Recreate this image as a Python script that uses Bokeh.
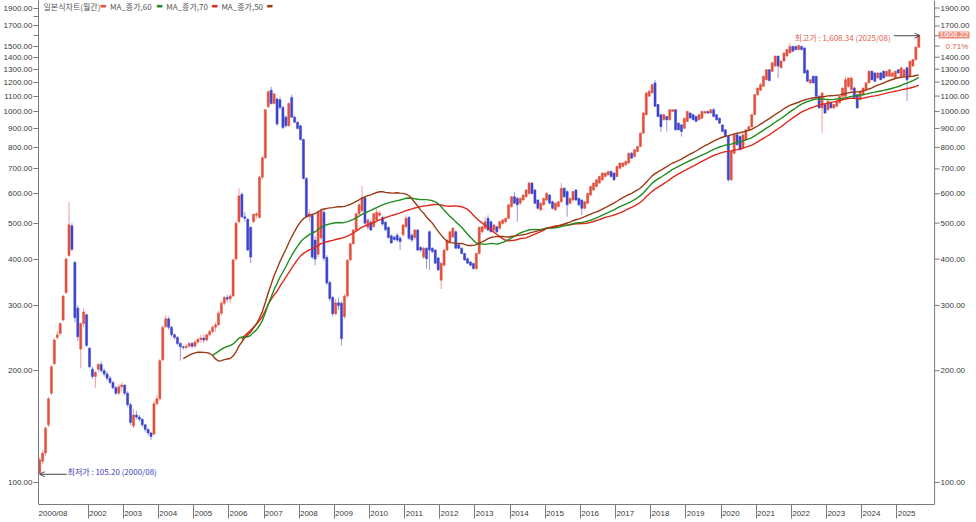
import pandas as pd
from bokeh.plotting import figure
from bokeh.models import (ColumnDataSource, Range1d, FixedTicker, LogAxis, LinearAxis,
                          Label, Arrow, OpenHead, CustomJSTickFormatter, Span)
from bokeh.embed import file_html
from bokeh.resources import INLINE
from bokeh.core.properties import value

# ---------------- data (monthly candles 2000/08 .. 2025/08) ----------------
first_month = "2000-08"

opens = [
    106, 114, 120, 143, 174,
    209, 246, 252, 274, 325, 409, 492, 392, 295, 229, 268, 283,
    230, 202, 193, 202, 208, 200, 196, 191, 186, 180, 174, 181,
    183, 174, 162, 142, 152, 150, 148, 143, 139, 136, 135, 163,
    168, 214, 263, 276, 262, 250, 246, 237, 232, 231, 233, 237,
    233, 239, 243, 245, 242, 250, 255, 262, 266, 286, 304, 315,
    312, 318, 400, 504, 598, 520, 512, 487, 505, 525, 518, 665,
    750, 1030, 1140, 1050, 1080, 1075, 1025, 965, 915, 1090, 965, 935,
    915, 840, 660, 520, 525, 450, 412, 456, 535, 404, 346, 315,
    285, 305, 304, 280, 318, 398, 440, 479, 530, 540, 585, 487,
    503, 490, 510, 525, 518, 503, 487, 462, 458, 464, 455, 465,
    489, 518, 464, 457, 479, 430, 405, 428, 474, 428, 423, 403,
    351, 385, 423, 445, 459, 474, 437, 428, 414, 401, 393, 389,
    377, 414, 474, 484, 515, 504, 479, 489, 484, 499, 504, 515,
    554, 589, 583, 566, 577, 589, 601, 641, 614, 577, 543, 560,
    577, 595, 571, 543, 554, 571, 621, 608, 566, 577, 614, 583,
    577, 548, 566, 595, 614, 628, 641, 654, 668, 675, 689, 682,
    668, 703, 711, 718, 726, 772, 756, 780, 805, 874, 980, 1099,
    1122, 1194, 1044, 980, 950, 969, 950, 1000, 1011, 930, 920, 901,
    940, 990, 980, 969, 950, 959, 990, 1000, 990, 1011, 980, 959,
    920, 892, 856, 654, 772, 865, 856, 797, 839, 892, 910, 980,
    1110, 1140, 1169, 1218, 1296, 1283, 1325, 1410, 1312, 1367, 1410, 1438,
    1497, 1497, 1468, 1497, 1482, 1290, 1194, 1244, 1244, 1099, 1022, 1044,
    1011, 1055, 1022, 1033, 1055, 1099, 1099, 1169, 1145, 1157, 1110, 1077,
    1110, 1145, 1194, 1283, 1270, 1231, 1270, 1283, 1244, 1244, 1244, 1231,
    1296, 1244, 1244, 1312, 1244, 1325, 1380, 1490,
]

highs = [
    117, 122, 142, 170, 208,
    245, 256, 270, 320, 405, 570, 500, 395, 300, 270, 295, 285,
    232, 205, 200, 210, 212, 203, 199, 194, 188, 182, 184, 186,
    184, 176, 164, 158, 156, 152, 149, 144, 140, 137, 166, 172,
    215, 265, 282, 280, 264, 252, 248, 239, 234, 236, 240, 239,
    242, 246, 250, 250, 252, 258, 265, 270, 290, 308, 318, 320,
    322, 402, 505, 620, 605, 535, 515, 490, 530, 535, 670, 760,
    1015, 1140, 1165, 1125, 1090, 1095, 1035, 975, 1060, 1110, 975, 940,
    920, 845, 665, 545, 530, 460, 540, 548, 545, 410, 350, 318,
    312, 315, 308, 322, 400, 442, 482, 532, 565, 630, 590, 515,
    510, 535, 547, 540, 522, 506, 490, 466, 462, 470, 462, 497,
    525, 522, 470, 482, 482, 433, 432, 430, 478, 430, 425, 405,
    392, 425, 452, 476, 489, 478, 440, 430, 416, 404, 395, 391,
    416, 490, 492, 520, 525, 508, 497, 492, 508, 512, 518, 562,
    592, 608, 588, 586, 598, 618, 647, 645, 618, 580, 569, 586,
    608, 599, 575, 569, 574, 641, 625, 612, 586, 611, 618, 586,
    580, 574, 604, 631, 644, 657, 671, 685, 685, 692, 693, 686,
    714, 730, 730, 738, 775, 778, 792, 808, 878, 995, 1125, 1145,
    1185, 1215, 1048, 985, 985, 972, 1015, 1015, 1015, 935, 925, 962,
    1005, 995, 985, 975, 985, 1005, 1005, 1005, 1015, 1022, 985, 962,
    925, 895, 860, 785, 868, 870, 862, 870, 895, 915, 985, 1115,
    1160, 1195, 1250, 1300, 1300, 1358, 1415, 1415, 1372, 1442, 1472, 1530,
    1505, 1502, 1512, 1505, 1490, 1300, 1222, 1250, 1248, 1105, 1125, 1050,
    1070, 1060, 1048, 1070, 1102, 1160, 1244, 1235, 1244, 1165, 1115, 1138,
    1160, 1198, 1290, 1290, 1275, 1275, 1276, 1290, 1288, 1300, 1275, 1290,
    1300, 1315, 1300, 1318, 1370, 1385, 1500, 1608.34,
]

lows = [
    105.2, 112, 118, 141, 172,
    207, 243, 249, 272, 322, 405, 420, 270, 240, 203, 262, 232,
    203, 190, 180, 198, 198, 193, 188, 184, 178, 172, 172, 176,
    172, 160, 143, 140, 148, 146, 141, 137, 134, 130, 134, 161,
    166, 212, 260, 258, 247, 243, 234, 213, 228, 228, 231, 230,
    231, 236, 238, 238, 240, 247, 252, 255, 264, 282, 300, 306,
    305, 316, 396, 500, 515, 505, 420, 390, 500, 515, 515, 655,
    745, 1020, 1045, 1045, 915, 1010, 895, 905, 910, 960, 930, 895,
    835, 655, 515, 505, 400, 385, 405, 450, 395, 340, 308, 280,
    282, 292, 234, 276, 315, 394, 436, 475, 525, 535, 495, 480,
    476, 485, 505, 520, 492, 476, 455, 440, 448, 445, 423, 460,
    485, 450, 445, 452, 420, 418, 400, 377, 374, 415, 388, 372,
    332, 382, 420, 442, 455, 426, 426, 412, 396, 388, 383, 375,
    374, 412, 470, 480, 476, 472, 476, 470, 480, 495, 500, 512,
    550, 562, 504, 560, 572, 585, 596, 598, 562, 544, 539, 556,
    573, 562, 544, 539, 550, 567, 585, 520, 562, 573, 573, 556,
    525, 544, 562, 591, 610, 624, 637, 650, 664, 671, 664, 650,
    664, 698, 706, 712, 722, 745, 750, 776, 800, 870, 975, 1095,
    1118, 1030, 965, 880, 945, 883, 945, 996, 888, 890, 856, 895,
    935, 955, 945, 935, 945, 955, 985, 985, 985, 965, 945, 925,
    880, 850, 647, 650, 765, 810, 785, 790, 835, 888, 905, 975,
    1100, 1135, 1165, 1212, 1205, 1278, 1320, 1231, 1305, 1360, 1405, 1432,
    1450, 1462, 1460, 1462, 1265, 1200, 1180, 1190, 1095, 1018, 874, 985,
    1005, 1018, 1015, 1028, 1050, 1095, 1095, 1160, 1140, 1085, 1018, 1070,
    1105, 1140, 1190, 1214, 1200, 1225, 1214, 1225, 1240, 1238, 1240, 1225,
    1265, 1240, 1240, 1068, 1240, 1320, 1370, 1480,
]

closes = [
    115, 120, 140, 168, 205,
    242, 250, 268, 318, 400, 495, 425, 278, 247, 268, 288, 234,
    205, 193, 198, 208, 200, 196, 191, 186, 180, 174, 181, 183,
    174, 162, 145, 152, 150, 148, 143, 139, 136, 133, 163, 168,
    213, 262, 276, 262, 250, 246, 237, 232, 231, 233, 237, 233,
    239, 243, 245, 242, 250, 255, 262, 266, 286, 304, 315, 312,
    318, 398, 500, 592, 520, 515, 423, 405, 528, 530, 665, 750,
    1010, 1130, 1050, 1115, 925, 1025, 905, 915, 1050, 965, 935, 900,
    840, 660, 520, 530, 405, 400, 535, 540, 402, 345, 313, 285,
    305, 300, 244, 318, 397, 440, 479, 530, 560, 585, 500, 510,
    479, 530, 535, 532, 497, 480, 457, 442, 452, 450, 446, 494,
    515, 455, 450, 479, 423, 423, 428, 401, 423, 419, 390, 374,
    390, 423, 450, 474, 484, 428, 428, 414, 398, 390, 385, 377,
    414, 487, 489, 504, 479, 474, 494, 474, 504, 510, 515, 560,
    589, 566, 560, 583, 595, 614, 641, 601, 566, 548, 566, 583,
    601, 566, 548, 566, 571, 621, 589, 560, 583, 608, 577, 560,
    548, 571, 601, 628, 641, 654, 668, 682, 682, 689, 668, 654,
    711, 726, 726, 733, 772, 748, 788, 805, 874, 990, 1122, 1133,
    1181, 1033, 969, 910, 980, 950, 1011, 1011, 892, 892, 883, 959,
    1000, 960, 950, 940, 980, 1000, 1000, 990, 1011, 969, 950, 930,
    883, 856, 654, 780, 865, 813, 788, 865, 892, 910, 980, 1110,
    1157, 1181, 1244, 1296, 1212, 1353, 1410, 1325, 1367, 1438, 1468, 1497,
    1453, 1468, 1505, 1468, 1270, 1206, 1218, 1194, 1099, 1022, 1122, 990,
    1066, 1022, 1044, 1066, 1099, 1157, 1218, 1231, 1231, 1088, 1022, 1133,
    1157, 1194, 1283, 1218, 1206, 1270, 1218, 1231, 1283, 1296, 1270, 1283,
    1270, 1312, 1296, 1218, 1367, 1380, 1490, 1608.22,
]

ma_periods = [60, 70, 50]
ma_names = ["MA_종가,60", "MA_종가,70", "MA_종가,50"]
y_ticks = [100, 200, 300, 400, 500, 600, 700, 800, 900, 1000,
           1100, 1200, 1300, 1400, 1500, 1600, 1700, 1800, 1900]
left_hidden = [1600, 1800]
right_hidden = [1500, 1600, 1800]
x_labels = ["2000/08"] + [str(y) for y in range(2002, 2026)]

chart_title = "일본식차트(월간)"
high_text = "최고가 : 1,608.34 (2025/08)"
low_text = "최저가 : 105.20 (2000/08)"
last_text = "1608.22"
change_text = "0.71%"

# ---------------- derived ----------------
n = len(closes)
months = pd.period_range(first_month, periods=n, freq="M")
idx = list(range(n))
up_c, dn_c = "#E2503E", "#3C44CC"
colors = [up_c if c >= o else dn_c for o, c in zip(opens, closes)]
src = ColumnDataSource(dict(
    x=idx, o=opens, h=highs, l=lows, c=closes,
    top=[max(o, c) for o, c in zip(opens, closes)],
    bot=[min(o, c) for o, c in zip(opens, closes)],
    col=colors,
    m=[str(mm) for mm in months],
))

cs = pd.Series(closes, dtype=float)
ma = {p_: cs.rolling(p_).mean().tolist() for p_ in ma_periods}

label_idx = [0] + [i for i, mm in enumerate(months) if mm.month == 1 and mm.year >= 2002]
boundaries = [i - 0.45 for i in label_idx]
label_pos = [boundaries[0] + 5.0] + [b + 3.3 for b in boundaries[1:]]

# ---------------- figure ----------------
FONT = "Liberation Sans"
KFONT = "Noto Sans CJK KR"
AX = "#7a7a7a"
TXT = "#3a3a3a"
X0, X_AXIS_R, X1 = -0.41, 305.4, 319.7     # frame spans to the page edge; price scale drawn at X_AXIS_R

p = figure(width=976, height=522, output_backend="svg", toolbar_location=None,
           x_range=Range1d(X0, X1), y_range=Range1d(87.2, 1991),
           y_axis_type="log", x_axis_location=None, y_axis_location=None,
           min_border_left=38, min_border_right=0, min_border_top=0, min_border_bottom=18,
           outline_line_color=None, background_fill_color="white", border_fill_color="white")
p.grid.visible = False

yl = LogAxis(ticker=FixedTicker(ticks=y_ticks, minor_ticks=[]),
             formatter=CustomJSTickFormatter(args=dict(hide=left_hidden),
                                             code="return hide.includes(tick) ? '' : tick.toFixed(2);"))
yl.axis_line_color = AX
yl.major_tick_line_color = AX
yl.major_tick_out = 5
yl.major_tick_in = 0
yl.minor_tick_line_color = None
yl.major_label_standoff = 1
yl.major_label_text_font = FONT
yl.major_label_text_font_size = "8px"
yl.major_label_text_color = TXT
p.add_layout(yl, "left")

xa = LinearAxis(ticker=FixedTicker(ticks=label_pos, minor_ticks=boundaries),
                formatter=CustomJSTickFormatter(args=dict(labels=x_labels), code="return labels[index];"),
                bounds=(X0, X_AXIS_R))
xa.axis_line_color = AX
xa.major_tick_line_color = None
xa.minor_tick_line_color = AX
xa.minor_tick_out = 14
xa.minor_tick_in = 0
xa.major_label_standoff = -10
xa.major_label_text_font = FONT
xa.major_label_text_font_size = "8px"
xa.major_label_text_color = TXT
p.add_layout(xa, "below")

# right-hand price scale (same log scale as the left axis)
p.add_layout(Span(location=X_AXIS_R, dimension="height", line_color=AX, line_width=1))
r_ticks = [t for t in y_ticks]
r_labels = ["" if t in right_hidden else f"{t:.2f}" for t in r_ticks]
p.ray(x=[X_AXIS_R] * len(r_ticks), y=r_ticks, length=5, length_units="screen", angle=0,
      line_color=AX, line_width=1)
p.text(x=[X_AXIS_R] * len(r_ticks), y=r_ticks, text=r_labels, x_offset=6,
       text_font=value(FONT), text_font_size="8px", text_color=TXT,
       text_align="left", text_baseline="middle")

# candles
p.segment(x0="x", y0="l", x1="x", y1="h", line_color="col", line_alpha=0.55, line_width=1, source=src)
p.vbar(x="x", width=0.72, top="top", bottom="bot", fill_color="col", line_color="col",
       line_width=0.5, source=src)

# moving averages
ma_colors = {60: "#1E8C1E", 70: "#E0281C", 50: "#9A3A14"}
for per in [70, 60, 50]:
    p.line(idx, ma[per], line_color=ma_colors[per], line_width=1.4)

# legend row
leg = [(chart_title, None, 1.3), ("", up_c, 20.6),
       (ma_names[0], None, 24.0), ("", ma_colors[60], 39.8),
       (ma_names[1], None, 43.2), ("", ma_colors[70], 58.6),
       (ma_names[2], None, 62.0), ("", ma_colors[50], 77.4)]
for txt, colr, xpos in leg:
    if colr is None:
        p.add_layout(Label(x=xpos, y=1919, text=txt, text_font=KFONT, text_font_size="8px",
                           text_color="#555555", text_align="left", text_baseline="middle"))
    else:
        p.add_layout(Label(x=xpos, y=1919, text="▬", text_font="DejaVu Sans", text_font_size="7px",
                           text_color=colr, text_align="left", text_baseline="middle"))

# max / min annotations
p.add_layout(Label(x=290.4, y=1582, text=high_text, text_font=KFONT, text_font_size="8px",
                   text_color="#E0604E", text_align="right", text_baseline="middle"))
p.add_layout(Arrow(x_start=291.5, y_start=1600, x_end=300.3, y_end=1600, line_color="#444444",
                   line_width=1, end=OpenHead(size=5, line_color="#444444", line_width=1)))
p.add_layout(Label(x=9.5, y=107.1, text=low_text, text_font=KFONT, text_font_size="8px",
                   text_color="#3C3CB4", text_align="left", text_baseline="middle"))
p.add_layout(Arrow(x_start=9.2, y_start=105.2, x_end=0.0, y_end=105.2, line_color="#444444",
                   line_width=1, end=OpenHead(size=5, line_color="#444444", line_width=1)))

# last price box on the right scale
p.add_layout(Label(x=X_AXIS_R, y=1608.22, x_offset=4, text=last_text, text_font=FONT, text_font_size="8px",
                   text_color="white", background_fill_color="#F08C7A", padding=1,
                   text_align="left", text_baseline="middle"))
p.add_layout(Label(x=X_AXIS_R, y=1497, x_offset=11, text=change_text, text_font=FONT, text_font_size="8px",
                   text_color="#E0604E", text_align="left", text_baseline="middle"))

open("out.html", "w").write(file_html(p, INLINE))
